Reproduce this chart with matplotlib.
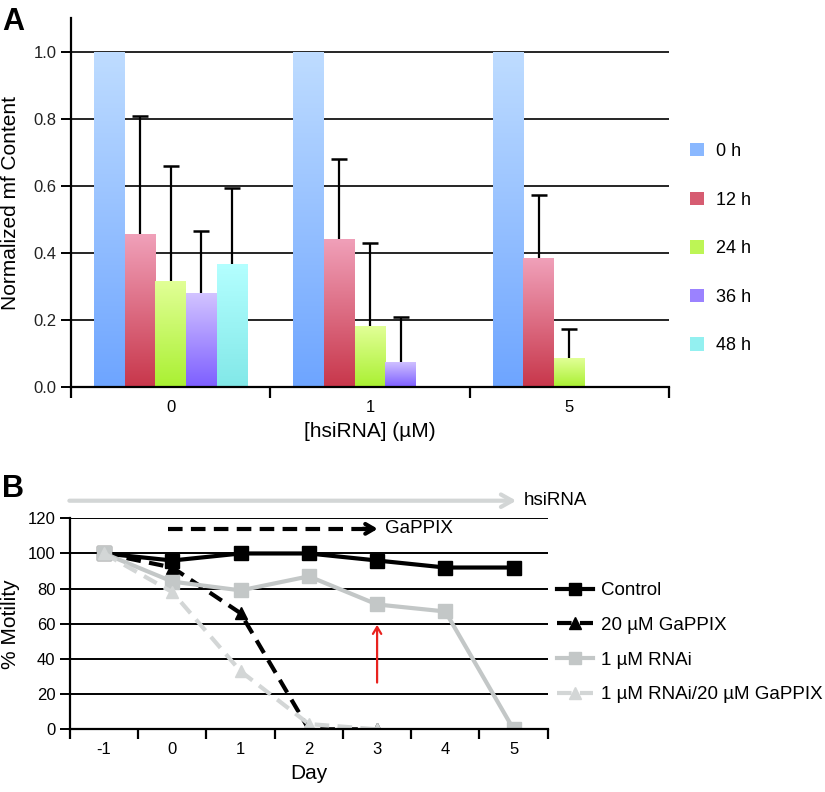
import numpy as np
import matplotlib
matplotlib.use("Agg")
import matplotlib.pyplot as plt
from matplotlib.colors import LinearSegmentedColormap
from matplotlib.patches import Patch

plt.rcParams['font.family'] = ['Liberation Sans', 'DejaVu Sans']

# ---- Panel A data ----
doses = ['0', '1', '5']
times = ['0 h', '12 h', '24 h', '36 h', '48 h']
mf_content = [
    [1.0, 1.0, 1.0],
    [0.456, 0.442, 0.385],
    [0.315, 0.182, 0.086],
    [0.280, 0.076, np.nan],
    [0.368, np.nan, np.nan],
]
mf_err = [
    [np.nan, np.nan, np.nan],
    [0.353, 0.238, 0.188],
    [0.345, 0.249, 0.088],
    [0.187, 0.134, np.nan],
    [0.226, np.nan, np.nan],
]
bar_colors = [  # (top, bottom)
    ('#bedcff', '#6ea5ff'),
    ('#f0a0b9', '#c8374b'),
    ('#e1ff96', '#aaf032'),
    ('#d2c3ff', '#7d5fff'),
    ('#b4ffff', '#82e8e8'),
]

# ---- Panel B data ----
days = [-1, 0, 1, 2, 3, 4, 5]
control = [100, 96, 100, 100, 96, 92, 92]
gappix = [100, 92, 66, 0, 0]
rnai = [100, 84, 79, 87, 71, 67, 0]
rnai_gappix = [100, 78, 33, 3, 0]

fig = plt.figure(figsize=(8.25, 7.92), dpi=100)

# ================= Panel A =================
axA = fig.add_axes([71/825, 1-387/792, (669-71)/825, (387-18.5)/792])
width = 0.154
x = np.arange(len(doses))
for i, t in enumerate(times):
    vals = np.nan_to_num(np.array(mf_content[i]))
    xpos = x + (i - 2) * width
    bars = axA.bar(xpos, vals, width, color=bar_colors[i][1], linewidth=0, zorder=2)
    cmap = LinearSegmentedColormap.from_list('g%d' % i, [bar_colors[i][1], bar_colors[i][0]])
    for p in bars:
        h = p.get_height()
        if h <= 0:
            continue
        x0 = p.get_x()
        grad = np.linspace(0, 1, 100).reshape(-1, 1)
        im = axA.imshow(grad, extent=[x0, x0 + p.get_width(), 0, h], origin='lower',
                        aspect='auto', cmap=cmap, zorder=2.5, interpolation='bilinear')
        im.set_clip_path(p)
    err = np.array(mf_err[i])
    ok = ~np.isnan(err)
    if ok.any():
        # upper error only: stem from bar top plus a cap
        axA.vlines(xpos[ok], vals[ok], vals[ok] + err[ok], color='black', lw=1.6, zorder=3)
        axA.plot(xpos[ok], vals[ok] + err[ok], ls='none', marker='_', ms=11,
                 mew=1.8, color='black', zorder=3)

axA.set_xlim(-0.5, 2.5)
axA.set_ylim(0, 1.1)
axA.set_yticks(np.arange(0, 1.01, 0.2))
axA.set_yticklabels(['%.1f' % v for v in np.arange(0, 1.01, 0.2)], fontsize=12, color='#222222')
for v in np.arange(0.2, 1.01, 0.2):
    axA.axhline(v, color='black', lw=1.2, zorder=1)
axA.set_xticks([-0.5, 0.5, 1.5, 2.5])
axA.set_xticklabels([])
axA.set_xticks(x, minor=True)
axA.set_xticklabels(doses, minor=True, fontsize=12)
axA.tick_params(axis='x', which='major', direction='out', length=8, width=1.6)
axA.tick_params(axis='x', which='minor', length=0, pad=9)
axA.tick_params(axis='y', direction='out', length=7, width=1.4)
for s in ['top', 'right']:
    axA.spines[s].set_visible(False)
for s in ['left', 'bottom']:
    axA.spines[s].set_linewidth(1.6)
    axA.spines[s].set_zorder(4)
axA.set_ylabel('Normalized mf Content', fontsize=15)
axA.yaxis.set_label_coords(-0.085, 0.5)
axA.set_xlabel('[hsiRNA] (µM)', fontsize=15)
axA.xaxis.set_label_coords(0.5, -0.095)

handlesA = [Patch(facecolor=LinearSegmentedColormap.from_list('l', [c[1], c[0]])(0.35),
                  edgecolor='none') for c in bar_colors]
fig.legend(handlesA, times, loc='upper left', bbox_to_anchor=(690/825, 1-143/792),
           frameon=False, fontsize=13, handlelength=0.75, handleheight=0.75,
           handletextpad=0.7, labelspacing=1.75, borderpad=0, borderaxespad=0)

# ================= Panel B =================
axB = fig.add_axes([70/825, 1-729.3/792, (547.7-70)/825, (729.3-518.3)/792])
grey = '#c3c7c7'
lgrey = '#d3d6d6'
axB.plot(days, control, color='black', lw=3, marker='s', ms=9.5, label='Control', zorder=5)
axB.plot(days[:len(gappix)], gappix, color='black', lw=3, ls=(0, (3.5, 2)), marker='^', ms=9,
         label='20 µM GaPPIX', zorder=5)
axB.plot(days, rnai, color=grey, lw=3, marker='s', ms=9.5, label='1 µM RNAi', zorder=6)
axB.plot(days[:len(rnai_gappix)], rnai_gappix, color=lgrey, lw=3, ls=(0, (3.5, 2)), marker='^',
         ms=9, label='1 µM RNAi/20 µM GaPPIX', zorder=6)

axB.set_xlim(-1.5, 5.5)
axB.set_ylim(0, 120)
axB.set_yticks(range(0, 121, 20))
axB.tick_params(axis='y', labelsize=12, direction='out', length=7, width=1.4)
for v in range(20, 121, 20):
    axB.axhline(v, color='black', lw=1.4, zorder=1)
axB.set_xticks(np.arange(-1.5, 5.6, 1))
axB.set_xticklabels([])
axB.set_xticks(days, minor=True)
axB.set_xticklabels([str(d) for d in days], minor=True, fontsize=12)
axB.tick_params(axis='x', which='major', direction='out', length=7, width=1.6)
axB.tick_params(axis='x', which='minor', length=0, pad=9)
for s in ['top', 'right']:
    axB.spines[s].set_visible(False)
for s in ['left', 'bottom']:
    axB.spines[s].set_linewidth(1.6)
    axB.spines[s].set_zorder(7)
axB.set_ylabel('% Motility', fontsize=15)
axB.yaxis.set_label_coords(-0.105, 0.5)
axB.set_xlabel('Day', fontsize=15)
axB.xaxis.set_label_coords(0.5, -0.165)

# treatment arrows
axB.annotate('', xy=(5.08, 130), xytext=(-1.55, 130), annotation_clip=False,
             arrowprops=dict(arrowstyle='->, head_length=0.8, head_width=0.45', color=lgrey, lw=3))
axB.text(5.15, 130, 'hsiRNA', fontsize=13.5, va='center', ha='left')
axB.plot([-0.06, 2.9], [114, 114], color='black', lw=3, ls=(0, (3.5, 2)), zorder=8)
axB.annotate('', xy=(3.05, 114), xytext=(2.75, 114),
             arrowprops=dict(arrowstyle='->, head_length=0.6, head_width=0.35', color='black', lw=3))
axB.text(3.12, 114, 'GaPPIX', fontsize=13.5, va='center', ha='left')
axB.annotate('', xy=(3, 61), xytext=(3, 25),
             arrowprops=dict(arrowstyle='->, head_length=0.5, head_width=0.3', color='#e8221e', lw=1.6))

fig.legend(loc='upper left', bbox_to_anchor=(557/825, 1-582/792), frameon=False,
           fontsize=13.5, handlelength=1.9, handletextpad=0.45, labelspacing=0.94,
           borderpad=0, borderaxespad=0, markerscale=0.9)

fig.text(0.003, 1-30/792, 'A', fontsize=22, fontweight='bold')
fig.text(0.003, 1-497/792, 'B', fontsize=22, fontweight='bold')

fig.savefig('out.png', dpi=100)
